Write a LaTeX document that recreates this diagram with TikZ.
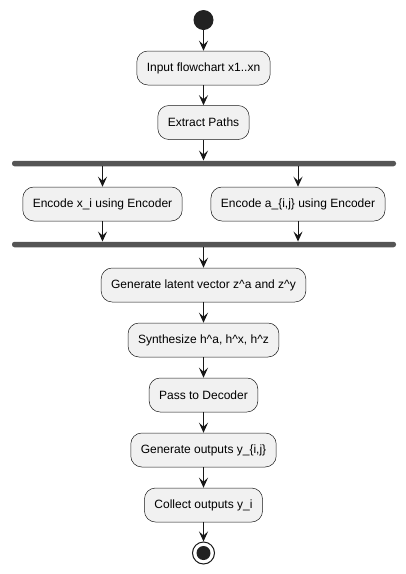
\documentclass[tikz,border=0pt]{standalone}
\usepackage{fontspec}
\setmainfont{Liberation Sans}
\usetikzlibrary{arrows.meta}
\definecolor{boxfill}{HTML}{F1F1F1}
\definecolor{ink}{HTML}{181818}
\definecolor{barcol}{HTML}{555555}
\definecolor{dotcol}{HTML}{222222}
\tikzset{
  act/.style={draw=ink, line width=0.5pt, fill=boxfill, rounded corners=11pt,
    minimum height=34pt, inner xsep=10pt, inner ysep=0pt,
    font=\fontsize{12}{14}\selectfont, text=black, anchor=center},
  syncbar/.style={fill=barcol, draw=none, rounded corners=2.5pt,
    minimum width=384pt, minimum height=5.5pt, inner sep=0pt},
  arr/.style={draw=ink, line width=1pt,
    -{Stealth[length=10pt, width=9pt, inset=4pt]}},
}
\begin{document}
\begin{tikzpicture}[x=1pt, y=-1pt]
\useasboundingbox (0,0) rectangle (406,574);
\node[circle, fill=dotcol, minimum size=20pt, inner sep=0pt] (start) at (203.5,20) {};
\node[act] (input) at (203.5,68) {Input flowchart x1..xn};
\node[act] (extract) at (203.5,122.5) {Extract Paths};
\node[syncbar] (fork) at (204,163.5) {};
\node[act] (encx) at (102.5,204) {Encode x\_i using Encoder};
\node[act] (enca) at (298,204) {Encode a\_\{i,j\} using Encoder};
\node[syncbar] (join) at (204,244.5) {};
\node[act] (latent) at (203.5,285) {Generate latent vector z\^{}a and z\^{}y};
\node[act] (synth) at (203.5,340) {Synthesize h\^{}a, h\^{}x, h\^{}z};
\node[act] (pass) at (203.5,395) {Pass to Decoder};
\node[act] (genout) at (203.5,450) {Generate outputs y\_\{i,j\}};
\node[act] (collect) at (203.5,505) {Collect outputs y\_i};
\node[circle, draw=ink, line width=1pt, fill=white, minimum size=22pt, inner sep=0pt] (stop) at (203.5,553) {};
\node[circle, fill=dotcol, minimum size=14pt, inner sep=0pt] (stopdot) at (203.5,553) {};

\draw[arr] (start.south) -- (input.north);
\draw[arr] (input.south) -- (extract.north);
\draw[arr] (extract.south) -- (extract.south |- fork.north);
\draw[arr] (fork.south -| encx.north) -- (encx.north);
\draw[arr] (fork.south -| enca.north) -- (enca.north);
\draw[arr] (encx.south) -- (encx.south |- join.north);
\draw[arr] (enca.south) -- (enca.south |- join.north);
\draw[arr] (join.south -| latent.north) -- (latent.north);
\draw[arr] (latent.south) -- (synth.north);
\draw[arr] (synth.south) -- (pass.north);
\draw[arr] (pass.south) -- (genout.north);
\draw[arr] (genout.south) -- (collect.north);
\draw[arr] (collect.south) -- (stop.north);
\end{tikzpicture}
\end{document}
